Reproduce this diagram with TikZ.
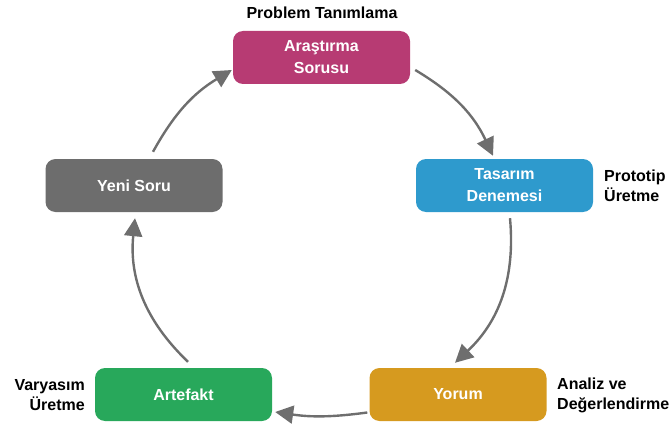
\documentclass[tikz,border=0pt]{standalone}
\usepackage{fontspec}
\setmainfont{Liberation Sans}
\usepackage{tikz}
\usetikzlibrary{arrows.meta}

\definecolor{arapink}{HTML}{B73B73}
\definecolor{tasblue}{HTML}{2E9ACD}
\definecolor{yorgold}{HTML}{D69A1F}
\definecolor{artgreen}{HTML}{28A85B}
\definecolor{yenigray}{HTML}{6D6D6D}
\definecolor{arrowgray}{HTML}{6E6E6E}

\begin{document}
\begin{tikzpicture}[%
x=1pt, y=-1pt,
>={Triangle[length=18pt,width=18pt]},
stage/.style={shape=rectangle, rounded corners=10pt, minimum width=177pt, minimum height=53pt,
  text=white, font=\fontsize{16}{22}\selectfont\bfseries, align=center, inner sep=2pt},
note/.style={font=\fontsize{16}{20}\selectfont\bfseries, text=black, inner sep=0pt},
cycle/.style={draw=arrowgray, line width=2.4pt, ->}
]
\useasboundingbox (0,0) rectangle (670,428);
\node[stage, fill=arapink] (ara) at (321.5,57.5) {Araştırma\\Sorusu};
\node[stage, fill=tasblue] (tas) at (504.5,185.5) {Tasarım\\Denemesi};
\node[stage, fill=yorgold] (yor) at (458,394.5) {Yorum};
\node[stage, fill=artgreen] (art) at (183.5,394.5) {Artefakt};
\node[stage, fill=yenigray] (yeni) at (134,185.5) {Yeni Soru};
\node[note] (prob) at (322,13) {Problem Tanımlama};
\node[note, anchor=west, align=left] (proto) at (604,186) {Prototip\\Üretme};
\node[note, anchor=west, align=left] (analiz) at (557,395) {Analiz ve\\Değerlendirme};
\node[note, anchor=east, align=right] (vary) at (85,395) {Varyasım\\Üretme};
\draw[cycle] ([xshift=5pt,yshift=-12.5pt]ara.east) to[bend left=17] ([xshift=-11.5pt,yshift=3pt]tas.north);
\draw[cycle] ([xshift=5.5pt,yshift=-6pt]tas.south) to[bend left=26] ([xshift=-3pt,yshift=5pt]yor.north);
\draw[cycle] ([xshift=-2pt,yshift=-18pt]yor.west) to[bend left=8] ([xshift=3pt,yshift=-17.5pt]art.east);
\draw[cycle] ([xshift=4.5pt,yshift=6pt]art.north) to[bend left=26] ([xshift=1pt,yshift=-6pt]yeni.south);
\draw[cycle] ([xshift=19pt,yshift=7pt]yeni.north) to[bend left=15] ([xshift=-1pt,yshift=-12.5pt]ara.west);
\end{tikzpicture}
\end{document}
